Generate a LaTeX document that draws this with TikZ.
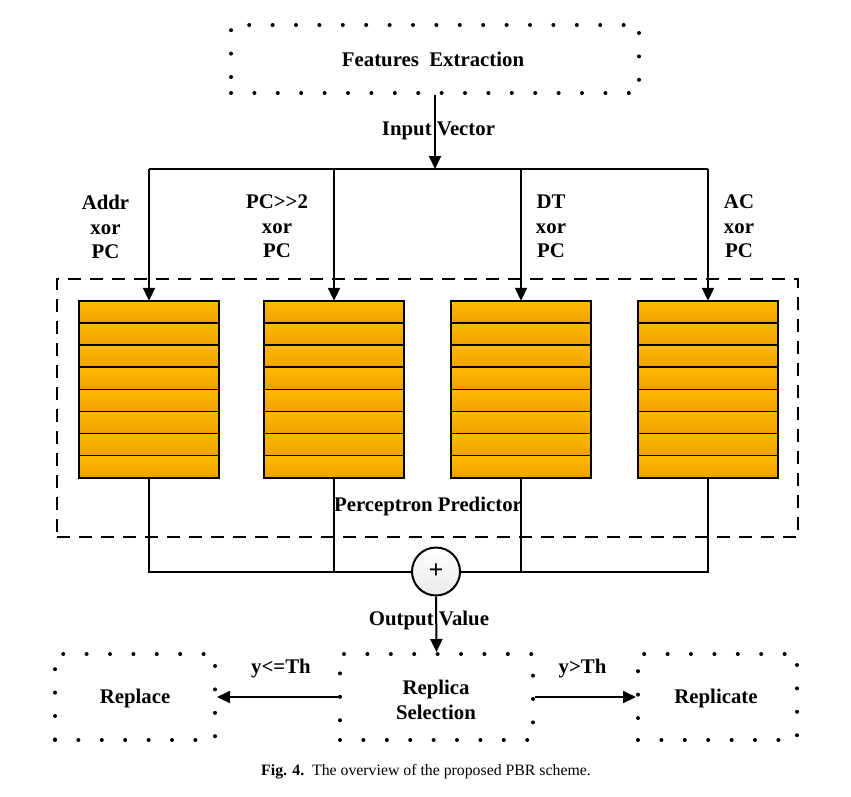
\documentclass[tikz,border=0pt]{standalone}
\usepackage{fontspec}
\setmainfont{Liberation Serif}
\usetikzlibrary{arrows.meta,calc}
\definecolor{cellTop}{RGB}{255,186,0}
\definecolor{cellBot}{RGB}{238,160,0}
\begin{document}
\begin{tikzpicture}[x=1pt,y=-1pt,
  lbl/.style={font=\bfseries\fontsize{20.8}{24.5}\selectfont, inner sep=0pt, align=center},
  dotbox/.style={draw, line width=4pt, line cap=round, dash pattern=on 0pt off 23.4pt, inner sep=0pt},
  dashbox/.style={draw, line width=2pt, dash pattern=on 13pt off 9pt, inner sep=0pt},
  conn/.style={line width=2pt},
  arr/.style={conn, -{Triangle[length=13pt,width=12pt]}},
  bank/.style={minimum width=140pt, minimum height=177pt, inner sep=0pt},
  cell/.style={draw, line width=1.6pt, top color=cellTop, bottom color=cellBot},
  adder/.style={circle, draw, line width=2pt, minimum size=48pt, inner sep=0pt,
    top color=white, bottom color=black!8, font=\bfseries\fontsize{26}{26}\selectfont}]
\useasboundingbox (0,0) rectangle (851,796);

% feature extraction stage
\node[dotbox, minimum width=408pt, minimum height=68pt] (fe) at (435,59) {};
\node[lbl, anchor=base] (fel) at (433,66) {Features~~Extraction};

% perceptron predictor frame
\node[dashbox, minimum width=741pt, minimum height=258pt] (pp) at (427.5,408) {};
\node[lbl, anchor=base] (ppl) at (428,511) {Perceptron Predictor};

% weight tables
\foreach \n/\x in {b1/149, b2/334, b3/521, b4/708} {
  \node[bank] (\n) at (\x,389.5) {};
  \foreach \i in {0,...,7}
    \path[cell] ($(\n.north west)+(0,\i*22.125)$) rectangle ++(140,22.125);
}

% input distribution
\coordinate (hub) at (435,169);
\draw[arr] (fe.south) -- (hub);
\node[lbl, anchor=base] (inl) at (438.5,135) {Input Vector};
\draw[conn] (hub -| b1.north) -- (hub -| b4.north);
\foreach \n in {b1,b2,b3,b4}
  \draw[arr] (hub -| \n.north) -- (\n.north);

\node[lbl, anchor=north] (h1) at (105.5,195) {Addr\\xor\\PC};
\node[lbl, anchor=north] (h2) at (277,195) {PC{\char"3E}{\char"3E}2\\xor\\PC};
\node[lbl, anchor=north] (h3) at (551,195) {DT\\xor\\PC};
\node[lbl, anchor=north] (h4) at (739,195) {AC\\xor\\PC};

% summation
\node[adder] (sum) at (436,571.5) {+};
\draw[conn] (b1.south) |- (sum.west);
\draw[conn] (b2.south) |- (sum.west);
\draw[conn] (b3.south) |- (sum.east);
\draw[conn] (b4.south) |- (sum.east);

% replica decision
\node[dotbox, minimum width=160pt, minimum height=86pt] (rp) at (135,697) {};
\node[lbl, anchor=base] (rpl) at (135,703) {Replace};
\node[dotbox, minimum width=193pt, minimum height=86pt] (rs) at (436.5,697) {};
\node[lbl, anchor=north] (rsl) at (436,680) {Replica\\Selection};
\node[dotbox, minimum width=159pt, minimum height=86pt] (rc) at (717.5,697) {};
\node[lbl, anchor=base] (rcl) at (716,703) {Replicate};

\draw[arr] (sum.south) -- (rs.north);
\node[lbl, anchor=base] (ovl) at (429,625) {Output Value};

\draw[arr] (rs.west) -- (rp.east);
\node[lbl, anchor=base] (lel) at (281,673) {y<=Th};
\draw[arr] (rs.east) -- (rc.west);
\node[lbl, anchor=base] (gtl) at (582.5,673) {y>Th};

% caption
\node[inner sep=0pt, anchor=base, font=\fontsize{15.8}{18}\selectfont] (cap) at (426,775)
  {\textbf{Fig. 4.}\enspace The overview of the proposed PBR scheme.};
\end{tikzpicture}
\end{document}
